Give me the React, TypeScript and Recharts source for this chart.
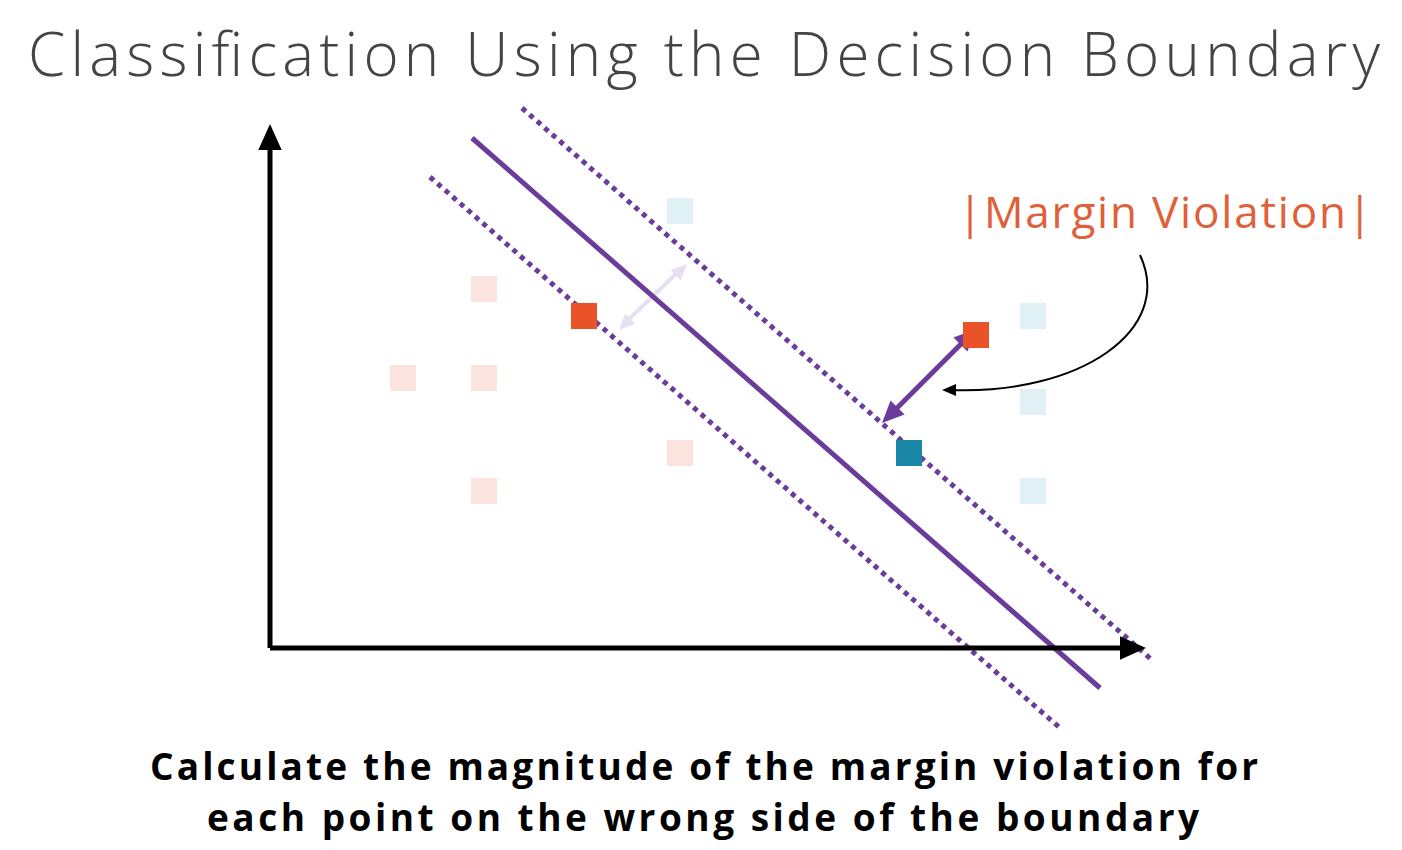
import React from 'react';
import { ScatterChart, Scatter, XAxis, YAxis, Customized } from 'recharts';

const W = 1402, H = 850;
const PURPLE = '#6a3d9a';

// all positions in chart units (identity-mapped to the 1402x850 canvas, y down)
const fadedRed = [{ x: 484, y: 289 }, { x: 403, y: 378 }, { x: 484, y: 378 }, { x: 484, y: 491 }, { x: 680, y: 453 }];
const fadedBlue = [{ x: 680, y: 211 }, { x: 1033, y: 316 }, { x: 1033, y: 402 }, { x: 1033, y: 491 }];
const redPoints = [{ x: 584, y: 316 }, { x: 976, y: 335 }];
const bluePoints = [{ x: 909, y: 453 }];

const yAxisLine = [{ x: 270, y: 648 }, { x: 270, y: 140 }];
const xAxisLine = [{ x: 270, y: 648 }, { x: 1128, y: 648 }];
const boundary = [{ x: 472, y: 138 }, { x: 1100, y: 688 }];
const marginUpper = [{ x: 522, y: 108 }, { x: 1152, y: 660 }];
const marginLower = [{ x: 430, y: 177 }, { x: 1060, y: 728 }];
const violation = [{ x: 893, y: 412 }, { x: 965, y: 340 }];
const faintViolation = [{ x: 628, y: 320 }, { x: 678, y: 272 }];

const axisHeads = [{ x: 270, y: 124, angle: -90, size: 26, color: '#000' }, { x: 1146, y: 648, angle: 0, size: 26, color: '#000' }];
const violationHeads = [{ x: 882, y: 423, angle: 135, size: 22, color: PURPLE }, { x: 976, y: 329, angle: -45, size: 22, color: PURPLE }];
const faintHeads = [{ x: 619, y: 330, angle: 135, size: 16, color: '#e6e0f0' }, { x: 687, y: 264, angle: -45, size: 16, color: '#e6e0f0' }];

const Square = (color: string) => (p: any) => <rect x={p.cx - 13} y={p.cy - 13} width={26} height={26} fill={color} />;
const Head = (p: any) => {
  const { angle, size, color } = p.payload;
  return <polygon points={`0,0 ${-size},${-size * 0.45} ${-size},${size * 0.45}`} fill={color}
    transform={`translate(${p.cx},${p.cy}) rotate(${angle})`} />;
};
const None = () => <g />;

const Overlay = () => (
  <g>
    <text x={28} y={76} textLength={1352} lengthAdjust="spacing" fontFamily="Open Sans" fontWeight={300} fontSize={60} fill="#444">Classification Using the Decision Boundary</text>
    <text x={958} y={228} textLength={414} lengthAdjust="spacing" fontFamily="Open Sans" fontSize={44} fill="#e0603a">|Margin Violation|</text>
    <path d="M1140,255 C1175,330 1080,395 950,390" fill="none" stroke="#000" strokeWidth={2} />
    <polygon points="0,0 14,-6 14,6" fill="#000" transform="translate(942,390)" />
    <text x={150} y={780} textLength={1108} lengthAdjust="spacing" fontFamily="Open Sans" fontWeight={700} fontSize={37} fill="#000">Calculate the magnitude of the margin violation for</text>
    <text x={207} y={831} textLength={992} lengthAdjust="spacing" fontFamily="Open Sans" fontWeight={700} fontSize={37} fill="#000">each point on the wrong side of the boundary</text>
  </g>
);

const lineSeries = (data: any[], stroke: string, width: number, dash?: string) => (
  <Scatter data={data} line={{ stroke, strokeWidth: width, strokeDasharray: dash }} shape={None} isAnimationActive={false} />
);

export default function App() {
  return (
    <div style={{ position: 'absolute', left: 0, top: 0, background: '#fff' }}>
      <ScatterChart width={W} height={H} margin={{ top: 0, right: 0, bottom: 0, left: 0 }}>
        <XAxis type="number" dataKey="x" domain={[0, W]} hide />
        <YAxis type="number" dataKey="y" domain={[0, H]} reversed hide />
        <Scatter data={fadedRed} shape={Square('#fbe4dd')} isAnimationActive={false} />
        <Scatter data={fadedBlue} shape={Square('#e0f1f6')} isAnimationActive={false} />
        {lineSeries(faintViolation, '#e6e0f0', 4)}
        <Scatter data={faintHeads} shape={Head} isAnimationActive={false} />
        {lineSeries(marginUpper, PURPLE, 5, '5 5')}
        {lineSeries(marginLower, PURPLE, 5, '5 5')}
        {lineSeries(boundary, PURPLE, 5)}
        {lineSeries(yAxisLine, '#000', 5)}
        {lineSeries(xAxisLine, '#000', 5)}
        <Scatter data={axisHeads} shape={Head} isAnimationActive={false} />
        {lineSeries(violation, PURPLE, 5)}
        <Scatter data={violationHeads} shape={Head} isAnimationActive={false} />
        <Scatter data={redPoints} shape={Square('#ea5228')} isAnimationActive={false} />
        <Scatter data={bluePoints} shape={Square('#1b87a6')} isAnimationActive={false} />
        <Customized component={Overlay} />
      </ScatterChart>
    </div>
  );
}
